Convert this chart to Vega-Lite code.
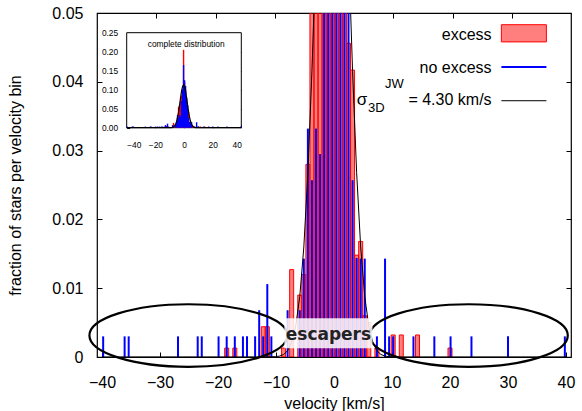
{
  "$schema": "https://vega.github.io/schema/vega-lite/v6.json",
  "width": 474,
  "height": 344,
  "autosize": {"type": "none"},
  "padding": {"left": 97, "top": 13, "right": 11, "bottom": 54},
  "background": "white",
  "config": {
    "font": "Liberation Sans",
    "view": {"stroke": "black", "strokeWidth": 1.2},
    "axis": {"labelColor": "black", "tickColor": "black", "domainColor": "black", "titleColor": "black", "grid": false, "titleFontWeight": "normal", "labelFont": "Liberation Sans", "titleFont": "Liberation Sans"}
  },
  "datasets": {
    "red": [
      {"v": -18.5, "f": 0.0013}, {"v": -17.1, "f": 0.0013}, {"v": -12.2, "f": 0.0044}, {"v": -11.5, "f": 0.0044},
      {"v": -8.7, "f": 0.0013}, {"v": -7.3, "f": 0.0127}, {"v": -5.9, "f": 0.009}, {"v": -5.2, "f": 0.012},
      {"v": -4.5, "f": 0.028}, {"v": -3.8, "f": 0.055}, {"v": -3.1, "f": 0.06}, {"v": -2.4, "f": 0.07},
      {"v": -1.7, "f": 0.085}, {"v": -1.0, "f": 0.1}, {"v": -0.3, "f": 0.205}, {"v": 0.4, "f": 0.12},
      {"v": 1.1, "f": 0.1}, {"v": 1.8, "f": 0.075}, {"v": 2.5, "f": 0.0456}, {"v": 3.2, "f": 0.0417},
      {"v": 3.9, "f": 0.0148}, {"v": 4.6, "f": 0.0168}, {"v": 5.3, "f": 0.006}, {"v": 6.0, "f": 0.005},
      {"v": 7.4, "f": 0.0013}, {"v": 10.2, "f": 0.0032}, {"v": 11.6, "f": 0.0032}, {"v": 14.4, "f": 0.0032},
      {"v": 20.0, "f": 0.0013}
    ],
    "blue": [
      {"v": -39.8, "f": 0.003}, {"v": -36.1, "f": 0.003}, {"v": -35.4, "f": 0.003}, {"v": -26.9, "f": 0.003},
      {"v": -23.5, "f": 0.003}, {"v": -22.8, "f": 0.003}, {"v": -19.9, "f": 0.003}, {"v": -18.5, "f": 0.003},
      {"v": -17.1, "f": 0.003}, {"v": -15.7, "f": 0.003}, {"v": -15.0, "f": 0.003}, {"v": -13.6, "f": 0.003},
      {"v": -12.9, "f": 0.0068}, {"v": -12.2, "f": 0.003}, {"v": -11.5, "f": 0.0106}, {"v": -10.8, "f": 0.003},
      {"v": -8.0, "f": 0.0068}, {"v": -5.9, "f": 0.0068}, {"v": -5.2, "f": 0.0143}, {"v": -4.5, "f": 0.0332},
      {"v": -3.8, "f": 0.0257}, {"v": -3.1, "f": 0.0332}, {"v": -2.4, "f": 0.0295}, {"v": -1.7, "f": 0.07},
      {"v": -1.0, "f": 0.1}, {"v": -0.3, "f": 0.165}, {"v": 0.4, "f": 0.125}, {"v": 1.1, "f": 0.11},
      {"v": 1.8, "f": 0.08}, {"v": 2.5, "f": 0.06}, {"v": 3.2, "f": 0.0257}, {"v": 3.9, "f": 0.0144},
      {"v": 4.6, "f": 0.0143}, {"v": 5.3, "f": 0.0143}, {"v": 7.4, "f": 0.003}, {"v": 8.8, "f": 0.0143},
      {"v": 9.5, "f": 0.003}, {"v": 10.2, "f": 0.003}, {"v": 13.7, "f": 0.003}, {"v": 17.3, "f": 0.003},
      {"v": 20.1, "f": 0.003}, {"v": 23.7, "f": 0.003}, {"v": 30.0, "f": 0.003}, {"v": 39.8, "f": 0.003}
    ],
    "model": [
      {"v": -40, "f": 0}, {"v": -12, "f": 0}, {"v": -10.1, "f": 0.00005}, {"v": -9.4, "f": 0.00013},
      {"v": -8.7, "f": 0.00036}, {"v": -8.0, "f": 0.00091}, {"v": -7.3, "f": 0.0021}, {"v": -6.6, "f": 0.00447},
      {"v": -5.9, "f": 0.0088}, {"v": -5.2, "f": 0.01599}, {"v": -4.5, "f": 0.02684}, {"v": -3.8, "f": 0.0416},
      {"v": -3.1, "f": 0.0595}, {"v": -2.4, "f": 0.0787}, {"v": -1.7, "f": 0.096}, {"v": -1.0, "f": 0.1082},
      {"v": -0.3, "f": 0.1126}, {"v": 0.4, "f": 0.1082}, {"v": 1.1, "f": 0.096}, {"v": 1.8, "f": 0.0787},
      {"v": 2.5, "f": 0.0595}, {"v": 3.2, "f": 0.0416}, {"v": 3.9, "f": 0.02684}, {"v": 4.6, "f": 0.01599},
      {"v": 5.3, "f": 0.0088}, {"v": 6.0, "f": 0.00447}, {"v": 6.7, "f": 0.0021}, {"v": 7.4, "f": 0.00091},
      {"v": 8.1, "f": 0.00036}, {"v": 8.8, "f": 0.00013}, {"v": 9.5, "f": 0.00005}, {"v": 11.4, "f": 0},
      {"v": 40, "f": 0}
    ]
  },
  "layer": [
    {
      "layer": [
        {
          "data": {"name": "red"},
          "mark": {"type": "bar", "width": 4, "fill": "#ff0000", "fillOpacity": 0.5, "stroke": "#ff0000", "strokeWidth": 1, "clip": true},
          "encoding": {
            "x": {"field": "v", "type": "quantitative", "scale": {"domain": [-40, 40], "nice": false, "zero": false},
              "axis": {"orient": "bottom", "values": [-40, -30, -20, -10, 0, 10, 20, 30, 40], "tickSize": -5, "labelPadding": 22, "labelFontSize": 16, "titleFontSize": 16, "titlePadding": 5, "domain": false},
              "title": "velocity [km/s]"},
            "y": {"field": "f", "type": "quantitative", "scale": {"domain": [0, 0.05], "nice": false},
              "axis": {"orient": "left", "values": [0, 0.01, 0.02, 0.03, 0.04, 0.05], "format": ".2~f", "tickSize": -5, "labelPadding": 19, "labelFontSize": 16, "titleFontSize": 16, "titlePadding": 28, "domain": false},
              "title": "fraction of stars per velocity bin"}
          }
        },
        {
          "data": {"name": "blue"},
          "mark": {"type": "rule", "stroke": "#0000ff", "strokeWidth": 2, "clip": true},
          "encoding": {
            "x": {"field": "v", "type": "quantitative"},
            "y": {"field": "f", "type": "quantitative"},
            "y2": {"datum": 0}
          }
        },
        {
          "data": {"name": "model"},
          "mark": {"type": "line", "stroke": "black", "strokeWidth": 1, "clip": true},
          "encoding": {
            "x": {"field": "v", "type": "quantitative"},
            "y": {"field": "f", "type": "quantitative"}
          }
        },
        {
          "data": {"values": [{}]},
          "mark": {"type": "point", "shape": "M-1,0A1,0.316,0,1,1,1,0A1,0.316,0,1,1,-1,0Z", "size": 39204, "filled": false, "stroke": "black", "strokeWidth": 2.2, "opacity": 1},
          "encoding": {"x": {"datum": -25.1, "type": "quantitative"}, "y": {"datum": 0.00312, "type": "quantitative"}}
        },
        {
          "data": {"values": [{}]},
          "mark": {"type": "point", "shape": "M-1,0A1,0.316,0,1,1,1,0A1,0.316,0,1,1,-1,0Z", "size": 39204, "filled": false, "stroke": "black", "strokeWidth": 2.2, "opacity": 1},
          "encoding": {"x": {"datum": 23.24, "type": "quantitative"}, "y": {"datum": 0.00312, "type": "quantitative"}}
        },
        {
          "data": {"values": [{}]},
          "mark": {"type": "rect", "fill": "white", "fillOpacity": 0.85},
          "encoding": {"x": {"datum": -8.56, "type": "quantitative"}, "x2": {"datum": 6.63}, "y": {"datum": 0.00563, "type": "quantitative"}, "y2": {"datum": 0.00126}}
        },
        {
          "data": {"values": [{"t": "escapers"}]},
          "mark": {"type": "text", "font": "DejaVu Sans", "fontWeight": "bold", "fontSize": 17, "fill": "#222222", "align": "center", "baseline": "middle"},
          "encoding": {"x": {"datum": -0.96, "type": "quantitative"}, "y": {"datum": 0.0032, "type": "quantitative"}, "text": {"field": "t"}}
        },
        {
          "data": {"values": [{"t": "excess"}]},
          "mark": {"type": "text", "fontSize": 16, "fill": "black", "align": "right", "baseline": "middle"},
          "encoding": {"x": {"datum": 27.17, "type": "quantitative"}, "y": {"datum": 0.0468, "type": "quantitative"}, "text": {"field": "t"}}
        },
        {
          "data": {"values": [{"t": "no excess"}]},
          "mark": {"type": "text", "fontSize": 16, "fill": "black", "align": "right", "baseline": "middle"},
          "encoding": {"x": {"datum": 27.17, "type": "quantitative"}, "y": {"datum": 0.042, "type": "quantitative"}, "text": {"field": "t"}}
        },
        {
          "data": {"values": [{"t": "= 4.30 km/s"}]},
          "mark": {"type": "text", "fontSize": 16, "fill": "black", "align": "right", "baseline": "middle"},
          "encoding": {"x": {"datum": 27.17, "type": "quantitative"}, "y": {"datum": 0.03735, "type": "quantitative"}, "text": {"field": "t"}}
        },
        {
          "data": {"values": [{"t": "σ"}]},
          "mark": {"type": "text", "fontSize": 17, "fill": "black", "align": "left", "baseline": "middle"},
          "encoding": {"x": {"datum": 3.93, "type": "quantitative"}, "y": {"datum": 0.03735, "type": "quantitative"}, "text": {"field": "t"}}
        },
        {
          "data": {"values": [{"t": "3D"}]},
          "mark": {"type": "text", "fontSize": 13, "fill": "black", "align": "left", "baseline": "alphabetic"},
          "encoding": {"x": {"datum": 5.85, "type": "quantitative"}, "y": {"datum": 0.03565, "type": "quantitative"}, "text": {"field": "t"}}
        },
        {
          "data": {"values": [{"t": "JW"}]},
          "mark": {"type": "text", "fontSize": 13, "fill": "black", "align": "left", "baseline": "alphabetic"},
          "encoding": {"x": {"datum": 8.8, "type": "quantitative"}, "y": {"datum": 0.0391, "type": "quantitative"}, "text": {"field": "t"}}
        },
        {
          "data": {"values": [{}]},
          "mark": {"type": "rect", "fill": "#ff0000", "fillOpacity": 0.5, "stroke": "#ff0000", "strokeWidth": 1},
          "encoding": {"x": {"datum": 28.86, "type": "quantitative"}, "x2": {"datum": 36.62}, "y": {"datum": 0.0458, "type": "quantitative"}, "y2": {"datum": 0.0483}}
        },
        {
          "data": {"values": [{}]},
          "mark": {"type": "rule", "stroke": "#0000ff", "strokeWidth": 2},
          "encoding": {"x": {"datum": 28.86, "type": "quantitative"}, "x2": {"datum": 36.62}, "y": {"datum": 0.04215, "type": "quantitative"}}
        },
        {
          "data": {"values": [{}]},
          "mark": {"type": "rule", "stroke": "black", "strokeWidth": 1},
          "encoding": {"x": {"datum": 28.86, "type": "quantitative"}, "x2": {"datum": 36.62}, "y": {"datum": 0.03725, "type": "quantitative"}}
        }
      ]
    },
    {
      "data": {"values": [{}]},
      "mark": {"type": "point", "opacity": 0},
      "encoding": {
        "x": {"datum": 0, "type": "quantitative", "scale": {"domain": [-40, 40], "nice": false, "zero": false},
          "axis": {"orient": "top", "values": [-30, -20, -10, 0, 10, 20, 30], "labels": false, "tickSize": -5, "domain": false, "title": null}},
        "y": {"datum": 0, "type": "quantitative", "scale": {"domain": [0, 0.05], "nice": false},
          "axis": {"orient": "right", "values": [0.01, 0.02, 0.03, 0.04], "labels": false, "tickSize": -5, "domain": false, "title": null}}
      }
    },
    {
      "layer": [
        {
          "data": {"values": [{}]},
          "mark": {"type": "rect", "fill": "white", "stroke": "black", "strokeWidth": 1},
          "encoding": {
            "x": {"datum": -40, "type": "quantitative", "scale": {"domain": [-40, 40], "range": [29.7, 144.3], "nice": false, "zero": false},
              "axis": {"orient": "bottom", "offset": -229.3, "values": [-40, -20, 0, 20, 40], "labelFontSize": 8.4, "tickSize": -3, "labelPadding": 16, "domain": false, "title": null}},
            "x2": {"datum": 40},
            "y": {"datum": 0, "type": "quantitative", "scale": {"domain": [0, 0.25], "range": [114.7, 19.7], "nice": false},
              "axis": {"orient": "left", "offset": -29.7, "values": [0, 0.05, 0.1, 0.15, 0.2, 0.25], "format": ".2f", "labelFontSize": 8.4, "tickSize": -3, "labelPadding": 12, "domain": false, "title": null}},
            "y2": {"datum": 0.25}
          }
        },
        {
          "data": {"name": "red"},
          "mark": {"type": "rule", "stroke": "#ff0000", "strokeWidth": 1.4},
          "encoding": {"x": {"field": "v", "type": "quantitative"}, "y": {"field": "f", "type": "quantitative"}, "y2": {"datum": 0}}
        },
        {
          "data": {"name": "blue"},
          "mark": {"type": "rule", "stroke": "#0000ff", "strokeWidth": 1.4},
          "encoding": {"x": {"field": "v", "type": "quantitative"}, "y": {"field": "f", "type": "quantitative"}, "y2": {"datum": 0}}
        },
        {
          "data": {"name": "model"},
          "mark": {"type": "line", "stroke": "black", "strokeWidth": 1.2},
          "encoding": {"x": {"field": "v", "type": "quantitative"}, "y": {"field": "f", "type": "quantitative"}}
        },
        {
          "data": {"values": [{"t": "complete distribution"}]},
          "mark": {"type": "text", "fontSize": 8.4, "fill": "black", "align": "center", "baseline": "middle"},
          "encoding": {"x": {"datum": 1.5, "type": "quantitative"}, "y": {"datum": 0.2203, "type": "quantitative"}, "text": {"field": "t"}}
        }
      ]
    },
    {
      "data": {"values": [{}]},
      "mark": {"type": "point", "opacity": 0},
      "encoding": {
        "x": {"datum": 0, "type": "quantitative", "scale": {"domain": [-40, 40], "range": [29.7, 144.3], "nice": false, "zero": false},
          "axis": {"orient": "top", "offset": -19.7, "values": [-20, 0, 20], "labels": false, "tickSize": -3, "domain": false, "title": null}},
        "y": {"datum": 0, "type": "quantitative", "scale": {"domain": [0, 0.25], "range": [114.7, 19.7], "nice": false},
          "axis": {"orient": "right", "offset": -329.7, "values": [0.05, 0.1, 0.15, 0.2], "labels": false, "tickSize": -3, "domain": false, "title": null}}
      }
    }
  ],
  "resolve": {"scale": {"x": "independent", "y": "independent"}, "axis": {"x": "independent", "y": "independent"}}
}
